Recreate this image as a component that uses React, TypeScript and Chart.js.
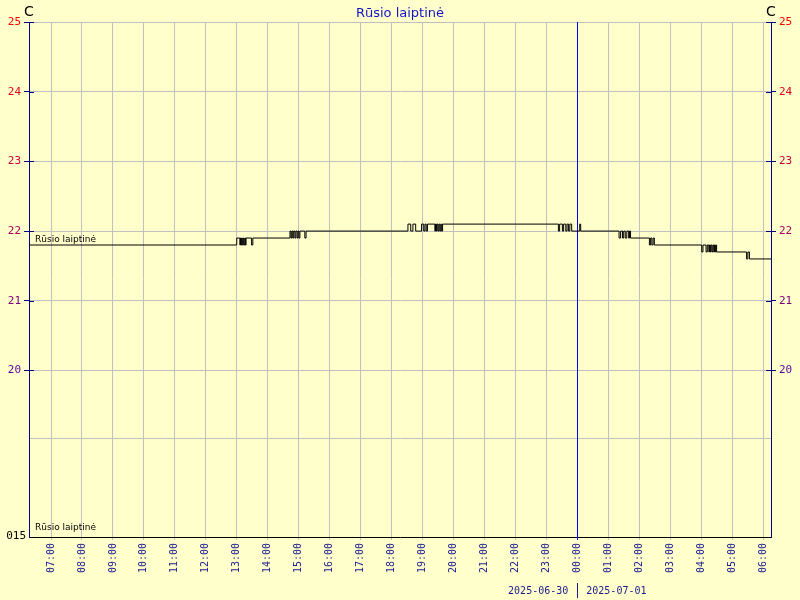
import React, { useEffect, useRef } from 'react';
import { Chart, registerables } from 'chart.js';

Chart.register(...registerables);

const TITLE = 'Rūsio laiptinė';
const SERIES_NAME = 'Rūsio laiptinė';
const LOWER_PANEL_NAME = 'Rūsio laiptinė';
const UNIT = 'C';
const DATE_LEFT = '2025-06-30';
const DATE_RIGHT = '2025-07-01';

// x values are hours counted from 2025-06-30 00:00
const X_MIN = 6.289;
const X_MAX = 30.258;
const MIDNIGHT = 24;
const HOUR_TICKS = [7, 8, 9, 10, 11, 12, 13, 14, 15, 16, 17, 18, 19, 20, 21, 22, 23, 24, 25, 26, 27, 28, 29, 30];
const HOUR_LABELS = ['07:00', '08:00', '09:00', '10:00', '11:00', '12:00', '13:00', '14:00', '15:00', '16:00', '17:00', '18:00', '19:00', '20:00', '21:00', '22:00', '23:00', '00:00', '01:00', '02:00', '03:00', '04:00', '05:00', '06:00'];

const Y_MIN = 17.61;
const Y_MAX = 25;
const PANEL_SPLIT = 19.03;
const Y_TICKS = [20, 21, 22, 23, 24, 25];
const Y_TICK_COLORS = ['#5a00a0', '#800080', '#a8005c', '#c8003c', '#e0001e', '#ff0000'];
const LOWER_PANEL_LABEL = '015';

const TIMES = [
  6.29, 13.0, 13.1, 13.12, 13.14, 13.16, 13.18, 13.21, 13.23, 13.26, 13.28, 13.3, 13.48, 13.52,
  14.72, 14.75, 14.78, 14.81, 14.84, 14.88, 14.91, 14.95, 14.98, 15.01, 15.04, 15.2, 15.24,
  18.53, 18.62, 18.69, 18.78, 18.97, 19.04, 19.08, 19.12, 19.16,
  19.4, 19.42, 19.45, 19.47, 19.5, 19.53, 19.56, 19.59, 19.62, 19.65,
  23.39, 23.43, 23.52, 23.56, 23.63, 23.67, 23.72, 23.76, 23.82, 24.08, 24.11,
  25.35, 25.4, 25.46, 25.5, 25.55, 25.6, 25.66, 25.69, 25.72,
  26.33, 26.37, 26.41, 26.45, 26.49,
  28.02, 28.06, 28.16, 28.2, 28.25, 28.27, 28.3, 28.32, 28.35, 28.38, 28.41, 28.43, 28.46, 28.48, 28.5,
  29.47, 29.51, 29.56, 30.26,
];
const TEMPS = [
  21.8, 21.9, 21.8, 21.9, 21.8, 21.9, 21.8, 21.9, 21.8, 21.9, 21.8, 21.9, 21.8, 21.9,
  22.0, 21.9, 22.0, 21.9, 22.0, 21.9, 22.0, 21.9, 22.0, 21.9, 22.0, 21.9, 22.0,
  22.1, 22.0, 22.1, 22.0, 22.1, 22.0, 22.1, 22.0, 22.1,
  22.0, 22.1, 22.0, 22.1, 22.0, 22.1, 22.0, 22.1, 22.0, 22.1,
  22.0, 22.1, 22.0, 22.1, 22.0, 22.1, 22.0, 22.1, 22.0, 22.1, 22.0,
  21.9, 22.0, 21.9, 22.0, 21.9, 22.0, 21.9, 22.0, 21.9,
  21.8, 21.9, 21.8, 21.9, 21.8,
  21.7, 21.8, 21.7, 21.8, 21.7, 21.8, 21.7, 21.8, 21.7, 21.8, 21.7, 21.8, 21.7, 21.8, 21.7,
  21.6, 21.7, 21.6, 21.6,
];

const BG = '#ffffcc';
const GRID = '#c0c0c0';
const NAVY = '#000080';
const MID_BLUE = '#0000ff';
const TITLE_BLUE = '#1414c8';
const TEXT_BLUE = '#1a1a8c';
const MONO = '"DejaVu Sans Mono", monospace';
const SANS = '"DejaVu Sans", sans-serif';

function yTickColor(v: number): string {
  const i = Y_TICKS.indexOf(v);
  return i >= 0 ? Y_TICK_COLORS[i] : '#000000';
}

const decor = {
  id: 'decor',
  beforeDraw(chart: any) {
    const { ctx, width, height } = chart;
    ctx.save();
    ctx.fillStyle = BG;
    ctx.fillRect(0, 0, width, height);
    ctx.restore();
  },
  beforeDatasetsDraw(chart: any) {
    const { ctx, chartArea: a, scales } = chart;
    const mx = Math.round(scales.x.getPixelForValue(MIDNIGHT)) + 0.5;
    ctx.save();
    ctx.strokeStyle = MID_BLUE;
    ctx.lineWidth = 1;
    ctx.beginPath();
    ctx.moveTo(mx, a.top);
    ctx.lineTo(mx, a.bottom + 3);
    ctx.stroke();
    ctx.restore();
  },
  afterDraw(chart: any) {
    const { ctx, chartArea: a, scales } = chart;
    const y = scales.y;
    const x = scales.x;
    ctx.save();
    ctx.strokeStyle = NAVY;
    ctx.lineWidth = 1;
    Y_TICKS.forEach((v) => {
      const p = Math.round(y.getPixelForValue(v)) + 0.5;
      ctx.beginPath();
      ctx.moveTo(a.left, p);
      ctx.lineTo(a.left + 5, p);
      ctx.moveTo(a.right - 5, p);
      ctx.lineTo(a.right, p);
      ctx.stroke();
    });
    ctx.textBaseline = 'middle';
    ctx.textAlign = 'center';
    ctx.fillStyle = TITLE_BLUE;
    ctx.font = '13px ' + SANS;
    ctx.fillText(TITLE, chart.width / 2, 14);
    ctx.fillStyle = '#000000';
    ctx.font = '14px ' + SANS;
    ctx.fillText(UNIT, a.left, 12);
    ctx.fillText(UNIT, a.right, 12);
    ctx.textAlign = 'right';
    ctx.font = '11px ' + MONO;
    ctx.fillText(LOWER_PANEL_LABEL, a.left - 3, y.getPixelForValue(Y_MIN) - 1);
    ctx.textAlign = 'left';
    ctx.textBaseline = 'alphabetic';
    ctx.font = '9px ' + SANS;
    ctx.fillText(SERIES_NAME, a.left + 6, y.getPixelForValue(TEMPS[0]) - 3);
    ctx.fillText(LOWER_PANEL_NAME, a.left + 6, a.bottom - 7);
    const mx = x.getPixelForValue(MIDNIGHT);
    ctx.fillStyle = TEXT_BLUE;
    ctx.font = '10px ' + MONO;
    ctx.textBaseline = 'middle';
    ctx.textAlign = 'right';
    ctx.fillText(DATE_LEFT, mx - 9, 591);
    ctx.textAlign = 'left';
    ctx.fillText(DATE_RIGHT, mx + 9, 591);
    ctx.strokeStyle = TEXT_BLUE;
    ctx.beginPath();
    ctx.moveTo(Math.round(mx) + 0.5, 583);
    ctx.lineTo(Math.round(mx) + 0.5, 598);
    ctx.stroke();
    ctx.restore();
  },
};

export default function App() {
  const ref = useRef<HTMLCanvasElement | null>(null);
  useEffect(() => {
    if (!ref.current) return;
    const data = TIMES.map((t, i) => ({ x: t, y: TEMPS[i] }));
    const chart = new Chart(ref.current, {
      type: 'line',
      data: {
        datasets: [
          {
            label: SERIES_NAME,
            data,
            borderColor: '#000000',
            borderWidth: 1,
            pointRadius: 0,
            stepped: true,
            fill: false,
          },
        ],
      },
      options: {
        animation: false,
        responsive: false,
        devicePixelRatio: 1,
        layout: { padding: { top: 22, left: 0, right: 0, bottom: 0 } },
        plugins: { legend: { display: false }, tooltip: { enabled: false }, title: { display: false } },
        scales: {
          x: {
            type: 'linear',
            position: 'bottom',
            min: X_MIN,
            max: X_MAX,
            afterBuildTicks: (s: any) => {
              s.ticks = HOUR_TICKS.map((v) => ({ value: v }));
            },
            afterFit: (s: any) => {
              s.height = 63;
            },
            ticks: {
              autoSkip: false,
              maxRotation: 90,
              minRotation: 90,
              padding: 3,
              color: TEXT_BLUE,
              font: { family: MONO, size: 10 },
              callback: (v: any) => {
                const i = HOUR_TICKS.indexOf(Number(v));
                return i >= 0 ? HOUR_LABELS[i] : '';
              },
            },
            grid: {
              color: (c: any) => (c.tick && c.tick.value === MIDNIGHT ? MID_BLUE : GRID),
              tickColor: (c: any) => (c.tick && c.tick.value === MIDNIGHT ? MID_BLUE : GRID),
              tickLength: 3,
              lineWidth: 1,
            },
            border: { color: '#000000', width: 1 },
          },
          y: {
            type: 'linear',
            position: 'left',
            min: Y_MIN,
            max: Y_MAX,
            afterBuildTicks: (s: any) => {
              s.ticks = [Y_MIN, PANEL_SPLIT, ...Y_TICKS].map((v) => ({ value: v }));
            },
            afterFit: (s: any) => {
              s.width = 29;
            },
            ticks: {
              autoSkip: false,
              padding: 3,
              font: { family: MONO, size: 11 },
              color: (c: any) => yTickColor(c.tick.value),
              callback: (v: any) => {
                const n = Number(v);
                if (Y_TICKS.indexOf(n) >= 0) return String(n);
                return '';
              },
            },
            grid: {
              color: (c: any) => (c.tick && c.tick.value === Y_MIN ? 'rgba(0,0,0,0)' : GRID),
              tickColor: (c: any) => (c.tick && Y_TICKS.indexOf(c.tick.value) >= 0 ? NAVY : 'rgba(0,0,0,0)'),
              tickLength: 5,
              lineWidth: 1,
            },
            border: { color: NAVY, width: 1 },
          },
          y2: {
            type: 'linear',
            position: 'right',
            min: Y_MIN,
            max: Y_MAX,
            afterBuildTicks: (s: any) => {
              s.ticks = Y_TICKS.map((v) => ({ value: v }));
            },
            afterFit: (s: any) => {
              s.width = 29;
            },
            ticks: {
              autoSkip: false,
              padding: 3,
              font: { family: MONO, size: 11 },
              color: (c: any) => yTickColor(c.tick.value),
              callback: (v: any) => String(v),
            },
            grid: {
              drawOnChartArea: false,
              tickColor: NAVY,
              tickLength: 5,
            },
            border: { color: NAVY, width: 1 },
          },
        },
      },
      plugins: [decor],
    });
    return () => chart.destroy();
  }, []);
  return (
    <div style={{ position: 'fixed', left: 0, top: 0, width: 800, height: 600 }}>
      <canvas ref={ref} width={800} height={600} style={{ width: 800, height: 600, display: 'block' }} />
    </div>
  );
}
